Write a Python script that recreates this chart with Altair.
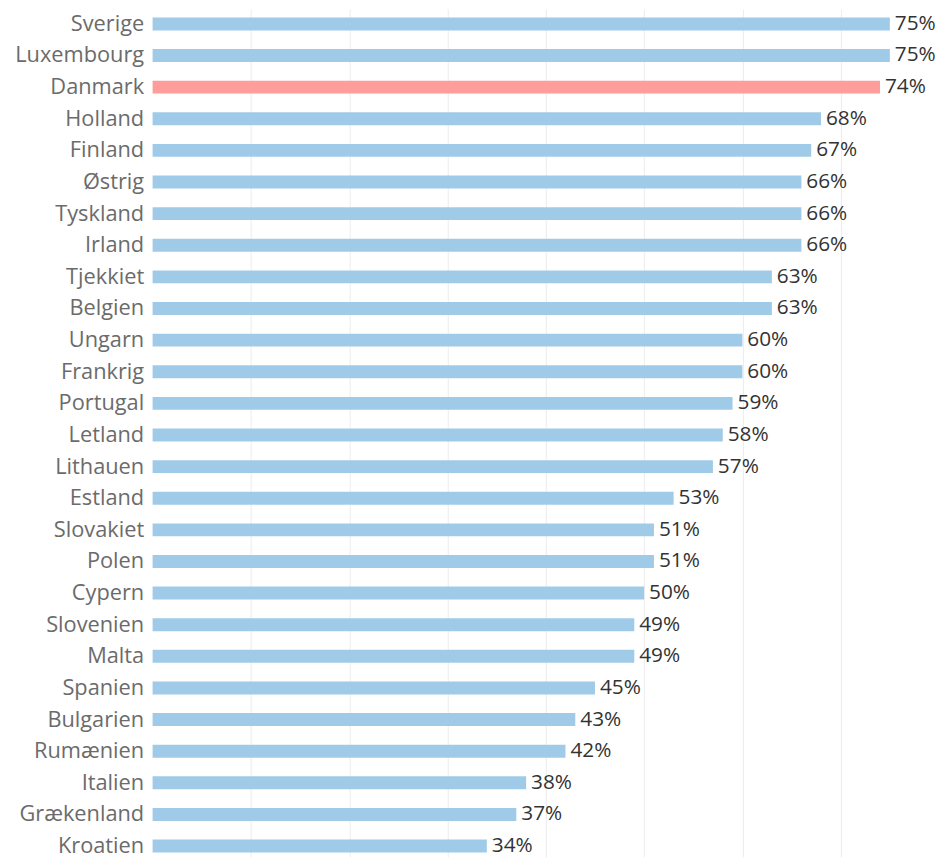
import altair as alt
import pandas as pd

countries = ["Sverige", "Luxembourg", "Danmark", "Holland", "Finland", "Østrig",
             "Tyskland", "Irland", "Tjekkiet", "Belgien", "Ungarn", "Frankrig",
             "Portugal", "Letland", "Lithauen", "Estland", "Slovakiet", "Polen",
             "Cypern", "Slovenien", "Malta", "Spanien", "Bulgarien", "Rumænien",
             "Italien", "Grækenland", "Kroatien"]
values = [75, 75, 74, 68, 67, 66, 66, 66, 63, 63, 60, 60, 59, 58, 57, 53, 51, 51,
          50, 49, 49, 45, 43, 42, 38, 37, 34]
highlight = "Danmark"

df = pd.DataFrame({"land": countries, "pct": values})
df["label"] = df["pct"].astype(str) + "%"
df["hl"] = df["land"].apply(lambda c: "ja" if c == highlight else "nej")

y = alt.Y("land:N", sort=countries, title=None,
          scale=alt.Scale(paddingInner=0.59, paddingOuter=0.2, range=[-1, 855]),
          axis=alt.Axis(labelFont="Open Sans", labelFontSize=22, labelColor="#6b6b6b",
                        labelPadding=9, ticks=False, domain=False, grid=False))
x = alt.X("pct:Q", title=None,
          scale=alt.Scale(domain=[0, 80], nice=False, zero=True),
          axis=alt.Axis(values=[10, 20, 30, 40, 50, 60, 70, 80], labels=False,
                        ticks=False, domain=False, grid=True,
                        gridColor="#ececec", gridWidth=1))

bars = alt.Chart(df).mark_bar().encode(
    x=x, y=y,
    color=alt.Color("hl:N", scale=alt.Scale(domain=["ja", "nej"],
                                           range=["#ff9d9a", "#a0cbe8"]), legend=None),
)
text = alt.Chart(df).mark_text(align="left", baseline="middle", dx=5,
                               font="Open Sans", fontSize=21, color="#333333").encode(
    x="pct:Q", y=alt.Y("land:N", sort=countries), text="label:N")

chart = (bars + text).properties(
    width=794, height=852,
    autosize=alt.AutoSizeParams(type="none"),
    padding={"left": 146, "top": 0, "right": 0, "bottom": 0},
).configure(background="white").configure_view(stroke=None)

chart.save("out.html", embed_options={"renderer": "svg", "actions": False})
